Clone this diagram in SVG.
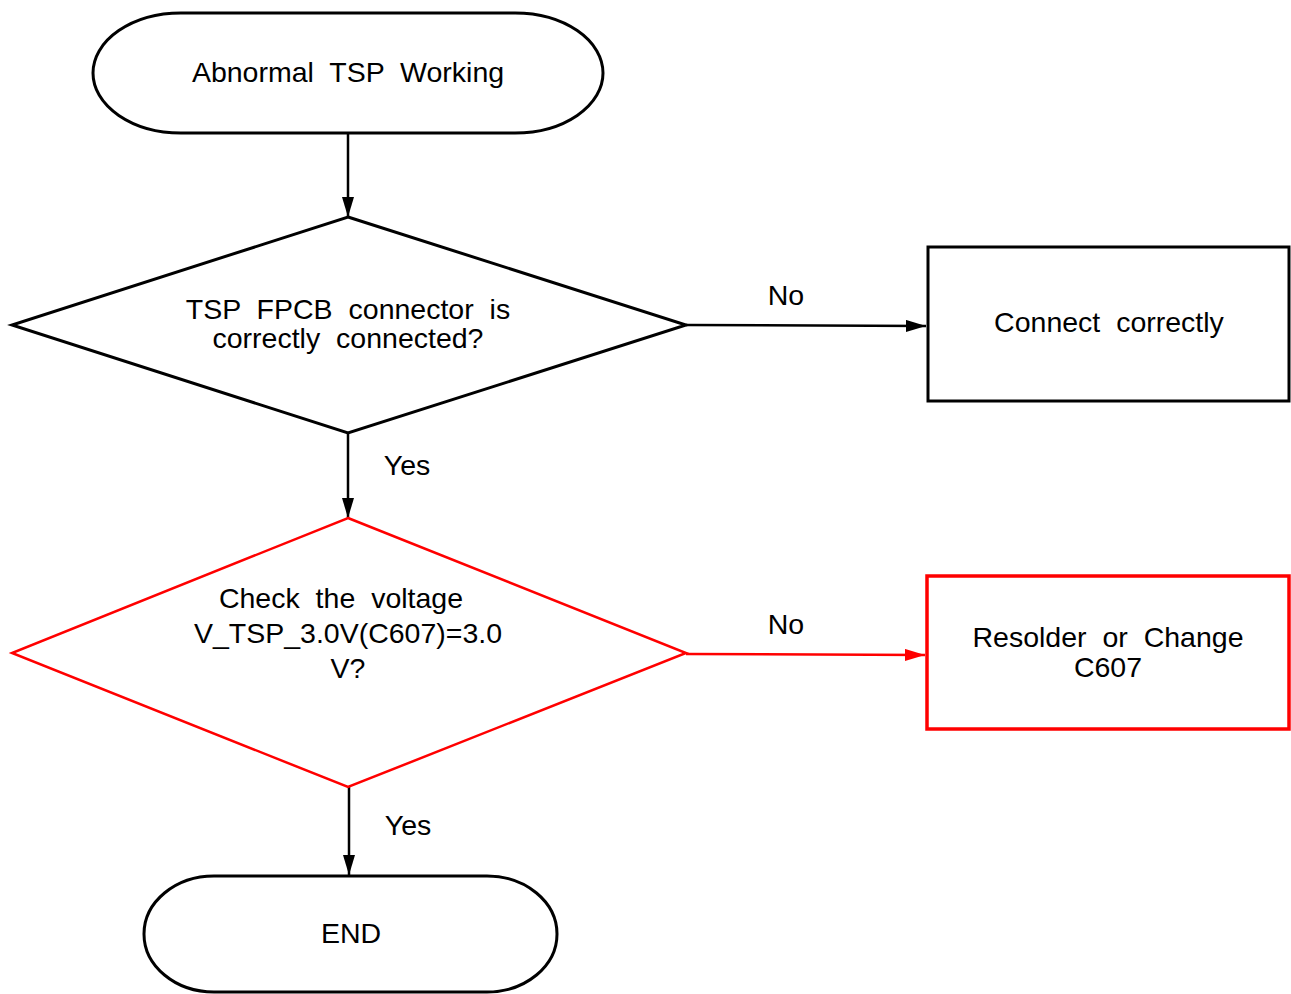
<svg xmlns="http://www.w3.org/2000/svg" width="1291" height="994" viewBox="0 0 1291 994">
<style>
.shape{fill:#fff;stroke:#000;stroke-width:3}
.red{fill:#fff;stroke:#ff0000;stroke-width:2.5}
.redbox{fill:#fff;stroke:#ff0000;stroke-width:3.5}
.conn{fill:none;stroke:#000;stroke-width:2.5}
.rconn{fill:none;stroke:#ff0000;stroke-width:2.5}
text{font-family:"Liberation Sans",Arial,sans-serif;font-size:28.5px;fill:#000;text-anchor:middle;word-spacing:8px}
</style>
<defs>
<marker id="ab" viewBox="0 0 20 12" refX="20" refY="6" markerWidth="20" markerHeight="12" markerUnits="userSpaceOnUse" orient="auto"><path d="M0,0 L20,6 L0,12 Z" fill="#000"/></marker>
<marker id="ar" viewBox="0 0 20 12" refX="20" refY="6" markerWidth="20" markerHeight="12" markerUnits="userSpaceOnUse" orient="auto"><path d="M0,0 L20,6 L0,12 Z" fill="#ff0000"/></marker>
</defs>
<g id="connectors">
<line class="conn" x1="348" y1="133" x2="348" y2="217" marker-end="url(#ab)"/>
<line class="conn" x1="686" y1="325" x2="926" y2="326" marker-end="url(#ab)"/>
<line class="conn" x1="348" y1="433" x2="348" y2="518" marker-end="url(#ab)"/>
<line class="rconn" x1="686" y1="654" x2="925" y2="655" marker-end="url(#ar)"/>
<line class="conn" x1="349" y1="787" x2="349" y2="875" marker-end="url(#ab)"/>
<text x="786" y="305">No</text>
<text x="407" y="475">Yes</text>
<text x="786" y="634">No</text>
<text x="408" y="835">Yes</text>
</g>
<g id="start">
<path class="shape" d="M181,13 L515,13 A88,60 0 0 1 515,133 L181,133 A88,60 0 0 1 181,13 Z"/>
<text x="348" y="82">Abnormal TSP Working</text>
</g>
<g id="decision1">
<polygon class="shape" points="348,217 686,325 348,433 12,325"/>
<text x="348" y="319">TSP FPCB connector is</text>
<text x="348" y="348">correctly connected?</text>
</g>
<g id="connect">
<rect class="shape" x="928" y="247" width="361" height="154"/>
<text x="1109" y="332">Connect correctly</text>
</g>
<g id="decision2">
<polygon class="red" points="348,518 686,653 348,787 12,653"/>
<text x="341" y="608">Check the voltage</text>
<text x="348" y="643">V_TSP_3.0V(C607)=3.0</text>
<text x="348" y="678">V?</text>
</g>
<g id="resolder">
<rect class="redbox" x="927" y="576" width="362" height="153"/>
<text x="1108" y="647">Resolder or Change</text>
<text x="1108" y="677">C607</text>
</g>
<g id="end">
<path class="shape" d="M214,876 L487,876 A70,58 0 0 1 487,992 L214,992 A70,58 0 0 1 214,876 Z"/>
<text x="351" y="943">END</text>
</g>
</svg>
